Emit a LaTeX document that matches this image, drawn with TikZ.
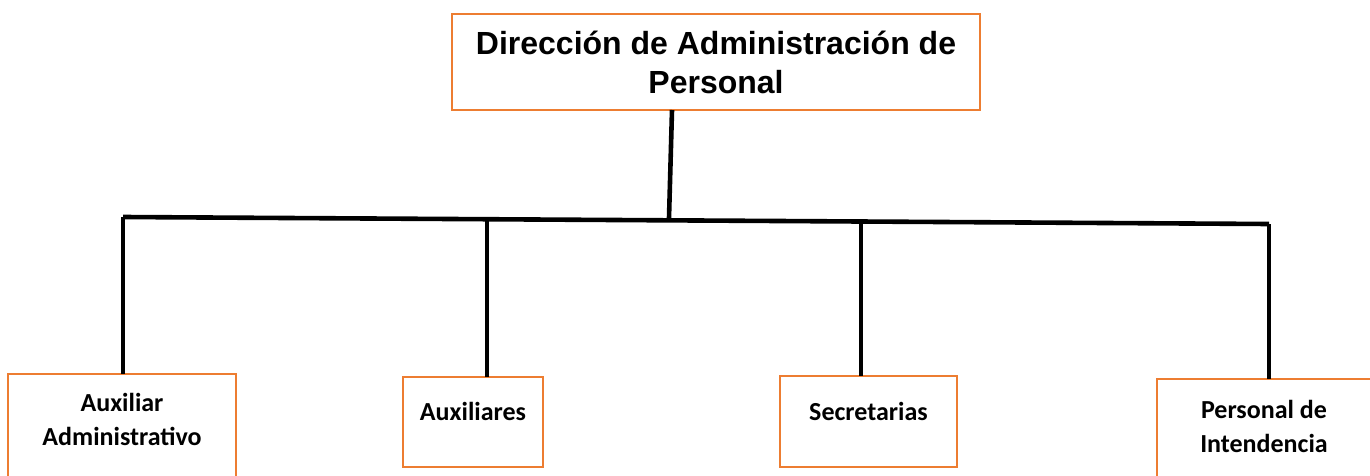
\documentclass[tikz,border=0pt]{standalone}
\usepackage{fontspec}
\setmainfont{Liberation Sans}
\newfontfamily\calibri{Carlito}
\definecolor{boxorange}{RGB}{237,125,49}

\begin{document}
\begin{tikzpicture}[x=1pt,y=-1pt,
	unit/.style={draw=boxorange,line width=2.8pt,inner sep=0,outer sep=0},
	unittext/.style={font=\calibri\bfseries\fontsize{26}{34}\selectfont,align=center,anchor=north,inner sep=0},
	link/.style={line width=4.6pt}]
	\useasboundingbox (0,0) rectangle (1370,476);
	% boxes
	\node[unit,minimum width=528,minimum height=96,align=center,font=\bfseries\fontsize{32}{39}\selectfont] (dir) at (716,62) {Dirección de Administración de\\Personal};
	\node[unit,minimum width=228,minimum height=120] (auxadm) at (122,434) {};
	\node[unit,minimum width=140,minimum height=90] (aux) at (473,422) {};
	\node[unit,minimum width=177,minimum height=91] (sec) at (868.5,421.5) {};
	\node[unit,minimum width=214,minimum height=115] (inten) at (1264,436.5) {};
	% texts
	\node[unittext] (auxadmtext) at (122,393) {Auxiliar\\Administrativo};
	\node[unittext] (auxtext) at (473,402) {Auxiliares};
	\node[unittext] (sectext) at (868.5,402) {Secretarias};
	\node[unittext] (intentext) at (1264,400) {Personal de\\Intendencia};
	% connectors
	\coordinate (busL) at (123,217);
	\coordinate (j2) at (487,220);
	\coordinate (top) at (669,218);
	\coordinate (j3) at (861,222);
	\coordinate (busR) at (1269,224);
	\draw[link] (busL) -- (busR);
	\draw[link] ([xshift=-44pt]dir.south) -- (top);
	\draw[link] (busL) -- (busL |- auxadm.north);
	\draw[link] (j2) -- (j2 |- aux.north);
	\draw[link] (j3) -- (j3 |- sec.north);
	\draw[link] (busR) -- (busR |- inten.north);
\end{tikzpicture}
\end{document}
